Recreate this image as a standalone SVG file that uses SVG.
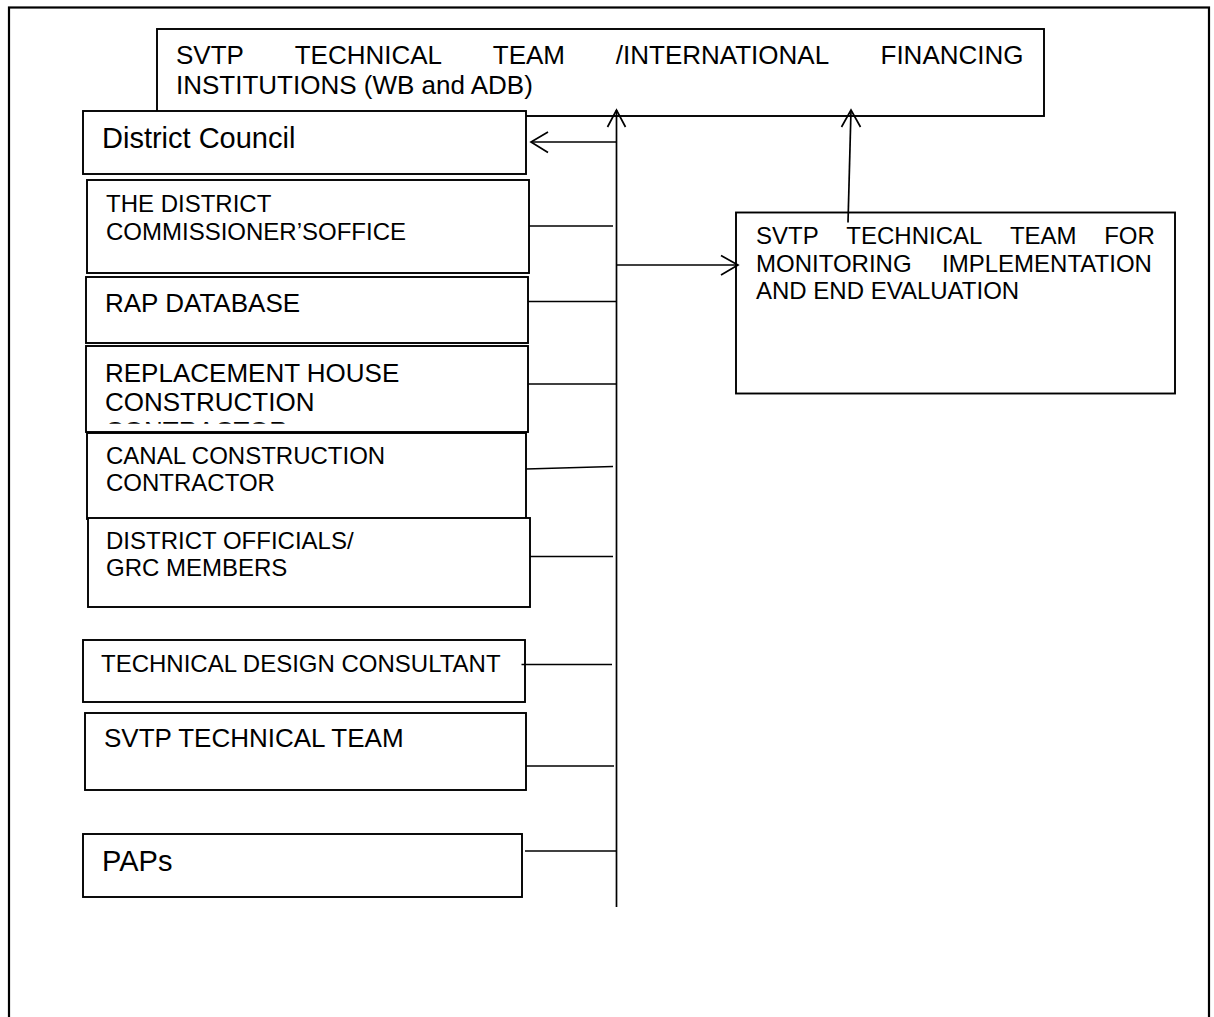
<svg xmlns="http://www.w3.org/2000/svg" width="1214" height="1017" viewBox="0 0 1214 1017">
  <style>
    .frame { fill: none; stroke: #000; stroke-width: 2.2; }
    .box { fill: #fff; stroke: #000; stroke-width: 1.9; }
    .link { fill: none; stroke: #000; stroke-width: 1.7; }
    .head { fill: none; stroke: #000; stroke-width: 1.7; stroke-linejoin: miter; }
    text { font-family: "Liberation Sans", Arial, sans-serif; fill: #000; }
    .t24 { font-size: 24px; }
    .t26 { font-size: 26px; }
    .t29 { font-size: 29px; }
  </style>
  <defs>
    <!-- the third line of this box is cut off by the box's bottom margin -->
    <clipPath id="replClip">
      <rect x="86" y="346" width="442" height="77.8"/>
    </clipPath>
  </defs>

  <rect width="1214" height="1017" fill="#fff"/>
  <!-- page frame, open at the bottom edge -->
  <rect class="frame" x="9" y="7.5" width="1200" height="1030"/>

  <g id="node-ifi">
    <rect class="box" x="157" y="29" width="887" height="87"/>
    <text class="t26" y="64">
      <tspan x="176">SVTP</tspan><tspan x="294.7">TECHNICAL</tspan><tspan x="492.8">TEAM</tspan><tspan x="615.8">/INTERNATIONAL</tspan><tspan x="880.5">FINANCING</tspan>
    </text>
    <text class="t26" x="176" y="94">INSTITUTIONS (WB and ADB)</text>
  </g>

  <g id="node-district-council">
    <rect class="box" x="83" y="111" width="443" height="63"/>
    <text class="t29" x="102" y="148">District Council</text>
  </g>

  <g id="node-dc-office">
    <rect class="box" x="87" y="180" width="442" height="93"/>
    <text class="t24" x="106" y="212">THE DISTRICT</text>
    <text class="t24" x="106" y="240">COMMISSIONER’SOFFICE</text>
  </g>

  <g id="node-rap-database">
    <rect class="box" x="86" y="277" width="442" height="66"/>
    <text class="t26" x="105" y="312">RAP DATABASE</text>
  </g>

  <g id="node-replacement-house">
    <rect class="box" x="86" y="346" width="442" height="86"/>
    <g clip-path="url(#replClip)">
      <text class="t26" x="105" y="382">REPLACEMENT HOUSE</text>
      <text class="t26" x="105" y="411">CONSTRUCTION</text>
      <text class="t26" x="105" y="440">CONTRACTOR</text>
    </g>
  </g>

  <g id="node-canal-contractor">
    <rect class="box" x="87" y="433" width="439" height="86"/>
    <text class="t24" x="106" y="464">CANAL CONSTRUCTION</text>
    <text class="t24" x="106" y="491">CONTRACTOR</text>
  </g>

  <g id="node-district-officials">
    <rect class="box" x="88" y="518" width="442" height="89"/>
    <text class="t24" x="106" y="549">DISTRICT OFFICIALS/</text>
    <text class="t24" x="106" y="576">GRC MEMBERS</text>
  </g>

  <g id="node-design-consultant">
    <rect class="box" x="83" y="640" width="442" height="62"/>
    <text class="t24" x="101" y="672">TECHNICAL DESIGN CONSULTANT</text>
  </g>

  <g id="node-svtp-team">
    <rect class="box" x="85" y="713" width="441" height="77"/>
    <text class="t26" x="104" y="747">SVTP TECHNICAL TEAM</text>
  </g>

  <g id="node-paps">
    <rect class="box" x="83" y="834" width="439" height="63"/>
    <text class="t29" x="102" y="871">PAPs</text>
  </g>

  <g id="node-monitoring">
    <rect class="box" x="736" y="212.5" width="439" height="181"/>
    <text class="t24" y="244">
      <tspan x="756">SVTP</tspan><tspan x="846.3">TECHNICAL</tspan><tspan x="1009.9">TEAM</tspan><tspan x="1104.2">FOR</tspan>
    </text>
    <text class="t24" y="272">
      <tspan x="756">MONITORING</tspan><tspan x="942.1">IMPLEMENTATION</tspan>
    </text>
    <text class="t24" x="756" y="299">AND END EVALUATION</text>
  </g>

  <g id="connectors">
    <!-- main vertical trunk with arrow into the top box -->
    <line class="link" x1="616.5" y1="907" x2="616.5" y2="110"/>
    <polyline class="head" points="607.5,127 616.5,110 625.5,127"/>

    <!-- trunk to District Council -->
    <line class="link" x1="616.5" y1="142" x2="531" y2="142"/>
    <polyline class="head" points="548,132 531,142 548,152.5"/>

    <!-- member boxes tied into the trunk -->
    <line class="link" x1="529" y1="226" x2="613" y2="226"/>
    <line class="link" x1="528" y1="301.5" x2="616.5" y2="301.5"/>
    <line class="link" x1="528" y1="384" x2="616.5" y2="384"/>
    <line class="link" x1="526" y1="469" x2="613" y2="466.5"/>
    <line class="link" x1="530" y1="556.5" x2="613" y2="556.5"/>
    <line class="link" x1="521.5" y1="664.5" x2="612" y2="664.5"/>
    <line class="link" x1="526" y1="766" x2="614" y2="766"/>
    <line class="link" x1="525" y1="851" x2="616.5" y2="851"/>

    <!-- trunk to monitoring team -->
    <line class="link" x1="616.5" y1="265" x2="738" y2="265"/>
    <polyline class="head" points="721,255.5 738,265 721,275"/>

    <!-- monitoring team up to the top box -->
    <line class="link" x1="848" y1="222.5" x2="851" y2="110"/>
    <polyline class="head" points="841.5,127 851,110 860.5,127"/>
  </g>
</svg>
